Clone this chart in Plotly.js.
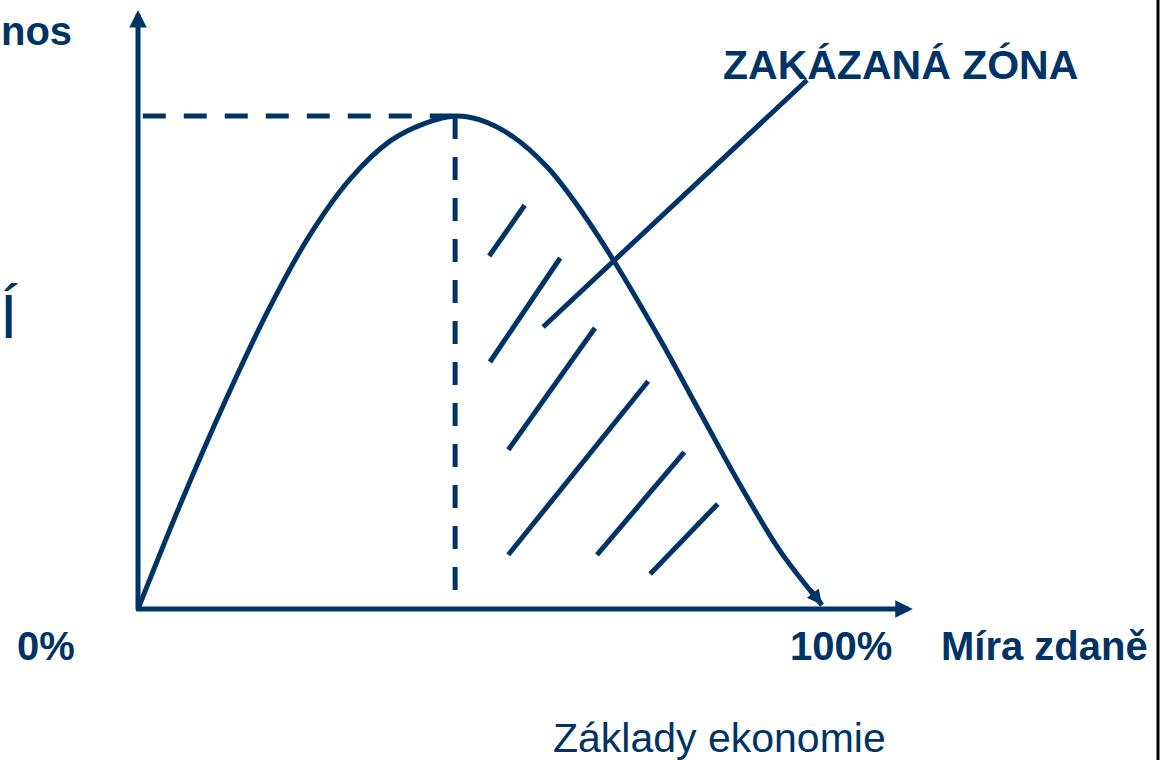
<!DOCTYPE html>
<html>
<head>
<meta charset="utf-8">
<script src="https://cdn.plot.ly/plotly-3.0.1.min.js"></script>
<style>
  html, body { margin: 0; padding: 0; background: #ffffff; }
  #chart { width: 1173px; height: 760px; }
</style>
</head>
<body>
<div id="chart"></div>
<script>
// ---- Data (tax rate in %, tax revenue as % of the maximum) ----
const taxRate = [0, 6.16, 12.76, 19.35, 25.22, 31.09, 36.95, 42.08, 46.5, 50.15, 54.99, 59.97, 63.78, 69.65, 76.54, 82.40, 88.27, 94.13, 100.3];
const revenue = [0, 21.1, 42.1, 61.3, 75.9, 87.2, 94.9, 98.5, 100, 99.2, 95.8, 89.7, 83.1, 70.9, 54.7, 39.9, 25.2, 11.8, 0.8];

const peakRate = 46.5;
const peakRevenue = 100;
const dashedBottom = 3.5;

// Hatching of the "prohibited zone"
const hatchX0 = [51.5, 51.6, 54.3, 54.3, 67.3, 75.1];
const hatchY0 = [71.6, 50.1, 32.3, 11.0, 11.0, 7.1];
const hatchX1 = [56.7, 61.9, 67.0, 74.8, 80.1, 85.0];
const hatchY1 = [81.9, 71.2, 57.0, 46.2, 31.8, 21.3];

// Pointer from the label to the zone
const pointerX = [59.4, 98.1];
const pointerY = [57.2, 107.3];

// Axis arrow ends
const xAxisEnd = 113.6;
const yAxisEnd = 121.5;

// Texts
const tickLabels = ["0%", "100%"];
const xAxisTitle = "Míra zdaně";
const yAxisTitleFragment = "nos";
const sideLetter = "Í";
const zoneLabel = "ZAKÁZANÁ ZÓNA";
const footer = "Základy ekonomie";

// ---- Styling ----
const NAVY = "#003366";
const W = 1173, H = 760;
const FONT = "Liberation Sans, Arial, sans-serif";
const px = x => x / W;
const py = y => 1 - y / H;

const trace = {
  x: taxRate,
  y: revenue,
  type: "scatter",
  mode: "lines",
  line: { color: NAVY, width: 5, shape: "spline", smoothing: 0.9 },
  hoverinfo: "skip"
};

const shapes = [];
// dashed guides at the peak
shapes.push({ type: "line", xref: "x", yref: "y", x0: 0.7, y0: peakRevenue, x1: peakRate, y1: peakRevenue,
  line: { color: NAVY, width: 5, dash: "23px,18px" } });
shapes.push({ type: "line", xref: "x", yref: "y", x0: peakRate, y0: peakRevenue, x1: peakRate, y1: dashedBottom,
  line: { color: NAVY, width: 5, dash: "23px,18px" } });
// hatching
for (let i = 0; i < hatchX0.length; i++) {
  shapes.push({ type: "line", xref: "x", yref: "y", x0: hatchX0[i], y0: hatchY0[i], x1: hatchX1[i], y1: hatchY1[i],
    line: { color: NAVY, width: 5 } });
}
// pointer
shapes.push({ type: "line", xref: "x", yref: "y", x0: pointerX[0], y0: pointerY[0], x1: pointerX[1], y1: pointerY[1],
  line: { color: NAVY, width: 5 } });
// right frame border
shapes.push({ type: "line", xref: "paper", yref: "paper", x0: px(1158), x1: px(1158), y0: 0, y1: 1,
  line: { color: "#000000", width: 3 } });

const n = taxRate.length;
// short arrow at the very end of the curve, aligned with its last segment
const tipX = taxRate[n - 1], tipY = revenue[n - 1];
const tailX = tipX + 0.3 * (taxRate[n - 2] - tipX);
const tailY = tipY + 0.3 * (revenue[n - 2] - tipY);

const annotations = [
  // y axis arrow
  { xref: "x", yref: "y", axref: "x", ayref: "y", x: 0, y: yAxisEnd, ax: 0, ay: -0.5,
    showarrow: true, arrowhead: 2, arrowsize: 0.7, arrowwidth: 5, arrowcolor: NAVY, standoff: 0, text: "" },
  // x axis arrow
  { xref: "x", yref: "y", axref: "x", ayref: "y", x: xAxisEnd, y: 0, ax: -0.5, ay: 0,
    showarrow: true, arrowhead: 2, arrowsize: 0.7, arrowwidth: 5, arrowcolor: NAVY, standoff: 0, text: "" },
  // curve end arrow
  { xref: "x", yref: "y", axref: "x", ayref: "y", x: tipX, y: tipY, ax: tailX, ay: tailY,
    showarrow: true, arrowhead: 2, arrowsize: 0.6, arrowwidth: 5, arrowcolor: NAVY, standoff: 0, text: "" },
  // texts
  { xref: "paper", yref: "paper", x: px(0), y: py(31), xanchor: "left", yanchor: "middle", showarrow: false, borderpad: 0,
    text: "<b>" + yAxisTitleFragment + "</b>", font: { family: FONT, size: 40, color: NAVY } },
  { xref: "paper", yref: "paper", x: px(-1), y: py(316), xanchor: "left", yanchor: "middle", showarrow: false, borderpad: 0,
    text: sideLetter, font: { family: FONT, size: 63, color: NAVY } },
  { xref: "paper", yref: "paper", x: px(16), y: py(646), xanchor: "left", yanchor: "middle", showarrow: false, borderpad: 0,
    text: "<b>" + tickLabels[0] + "</b>", font: { family: FONT, size: 40, color: NAVY } },
  { xref: "paper", yref: "paper", x: px(893), y: py(646), xanchor: "right", yanchor: "middle", showarrow: false, borderpad: 0,
    text: "<b>" + tickLabels[1] + "</b>", font: { family: FONT, size: 40, color: NAVY } },
  { xref: "paper", yref: "paper", x: px(940), y: py(646), xanchor: "left", yanchor: "middle", showarrow: false, borderpad: 0,
    text: "<b>" + xAxisTitle + "</b>", font: { family: FONT, size: 40, color: NAVY } },
  { xref: "paper", yref: "paper", x: px(900), y: py(65), xanchor: "center", yanchor: "middle", showarrow: false, borderpad: 0,
    text: "<b>" + zoneLabel + "</b>", font: { family: FONT, size: 41, color: NAVY } },
  { xref: "paper", yref: "paper", x: px(719), y: py(738), xanchor: "center", yanchor: "middle", showarrow: false, borderpad: 0,
    text: footer, font: { family: FONT, size: 41, color: NAVY } }
];

const XPX = 6.82, YPX = 4.93, X0 = 138, Y0 = 609;
const layout = {
  width: W, height: H,
  margin: { l: 0, r: 0, t: 0, b: 0, pad: 0 },
  paper_bgcolor: "#ffffff", plot_bgcolor: "#ffffff",
  showlegend: false,
  xaxis: { range: [-X0 / XPX, (W - X0) / XPX], visible: false, showgrid: false, zeroline: false, fixedrange: true },
  yaxis: { range: [-(H - Y0) / YPX, Y0 / YPX], visible: false, showgrid: false, zeroline: false, fixedrange: true },
  shapes: shapes,
  annotations: annotations
};

Plotly.newPlot("chart", [trace], layout, { staticPlot: true, displayModeBar: false });
</script>
</body>
</html>
